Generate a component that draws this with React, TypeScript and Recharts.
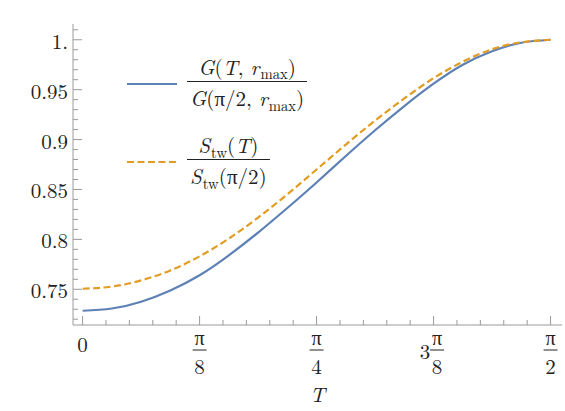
import React from 'react';
import { LineChart, Line, XAxis, YAxis, Legend } from 'recharts';

const PI = Math.PI;

// sample points, in units of π/32
const tSteps = [0, 1, 2, 3, 4, 5, 6, 7, 8, 9, 10, 11, 12, 13, 14, 15, 16];
// G(T, r_max) / G(π/2, r_max)
const gRatio = [0.7285, 0.7307, 0.7375, 0.7488, 0.764, 0.784, 0.8068, 0.8314, 0.857, 0.8835, 0.9093, 0.9336, 0.956, 0.975, 0.9885, 0.997, 1.0];
// S_tw(T) / S_tw(π/2)
const sRatio = [0.7505, 0.7527, 0.7589, 0.7689, 0.783, 0.8008, 0.8218, 0.8452, 0.87, 0.895, 0.919, 0.9412, 0.9615, 0.978, 0.9905, 0.9975, 1.0];

const xMajorTicks = [0, PI / 8, PI / 4, (3 * PI) / 8, PI / 2];
const xTickLabels = ['0', 'π/8', 'π/4', '3π/8', 'π/2'];
const yMajorTicks = [0.75, 0.8, 0.85, 0.9, 0.95, 1];
const yTickLabels = ['0.75', '0.8', '0.85', '0.9', '0.95', '1.'];

const xMinorTicks = Array.from({ length: 21 }, (_, i) => (i * PI) / 40);
const yMinorTicks = Array.from({ length: 30 }, (_, i) => +(0.72 + i * 0.01).toFixed(2));

const X_DOMAIN = [-0.0322, 1.6092];
const Y_DOMAIN = [0.7142, 1.0158];

const BLUE = '#5E81B5';
const ORANGE = '#E19C24';
const FRAME = '#9a9a9a';
const TEXT = '#222';
const FONT =
  "'Latin Modern Roman', 'CMU Serif', 'Liberation Serif', Tinos, 'Times New Roman', Times, 'DejaVu Serif', 'Noto Serif', FreeSerif, serif";

const data = tSteps.map((k, i) => ({ t: (k * PI) / 32, g: gRatio[i], s: sRatio[i] }));

const majorIndex = (ticks: number[], v: number) => ticks.findIndex(m => Math.abs(m - v) < 1e-6);

const XLabel = ({ x, y, label }: { x: number; y: number; label: string }) => {
  const m = label.match(/^(\d*)π\/(\d+)$/);
  if (!m) {
    return (
      <text x={x} y={y + 18} textAnchor="middle" dominantBaseline="central" fontSize={21} fill={TEXT} style={{ fontFamily: FONT }}>
        {label}
      </text>
    );
  }
  const coef = m[1];
  const cx = coef ? x + 3.5 : x;
  return (
    <g fill={TEXT} style={{ fontFamily: FONT }}>
      {coef && (
        <text x={cx - 12} y={y + 25} textAnchor="middle" dominantBaseline="central" fontSize={21}>
          {coef}
        </text>
      )}
      <text x={cx} y={y + 11} textAnchor="middle" dominantBaseline="central" fontSize={20}>
        π
      </text>
      <line x1={cx - 7} x2={cx + 7} y1={y + 25} y2={y + 25} stroke={TEXT} strokeWidth={1} />
      <text x={cx} y={y + 40} textAnchor="middle" dominantBaseline="central" fontSize={21}>
        {m[2]}
      </text>
    </g>
  );
};

const BottomTick = (props: any) => {
  const { x, y, payload } = props;
  const idx = majorIndex(xMajorTicks, payload.value);
  const len = idx >= 0 ? 9 : 5;
  return (
    <g>
      <line x1={x} x2={x} y1={y} y2={y - len} stroke={FRAME} />
      {idx >= 0 && <XLabel x={x} y={y} label={xTickLabels[idx]} />}
    </g>
  );
};

const TopTick = (props: any) => {
  const { x, y, payload } = props;
  const len = majorIndex(xMajorTicks, payload.value) >= 0 ? 9 : 5;
  return <line x1={x} x2={x} y1={y} y2={y + len} stroke={FRAME} />;
};

const LeftTick = (props: any) => {
  const { x, y, payload } = props;
  const idx = majorIndex(yMajorTicks, payload.value);
  const len = idx >= 0 ? 9 : 5;
  return (
    <g>
      <line x1={x} x2={x + len} y1={y} y2={y} stroke={FRAME} />
      {idx >= 0 && (
        <text x={x - 5} y={y} textAnchor="end" dominantBaseline="central" fontSize={21} fill={TEXT} style={{ fontFamily: FONT }}>
          {yTickLabels[idx]}
        </text>
      )}
    </g>
  );
};

const RightTick = (props: any) => {
  const { x, y, payload } = props;
  const len = majorIndex(yMajorTicks, payload.value) >= 0 ? 9 : 5;
  return <line x1={x} x2={x - len} y1={y} y2={y} stroke={FRAME} />;
};

const Sub = ({ children }: { children: React.ReactNode }) => (
  <span
    style={{
      display: 'inline-block',
      fontSize: '0.7em',
      fontStyle: 'normal',
      verticalAlign: '-0.3em',
      lineHeight: 1,
      marginLeft: 1,
    }}
  >
    {children}
  </span>
);

const I = ({ children }: { children: React.ReactNode }) => <i>{children}</i>;

const Frac = ({ num, den }: { num: React.ReactNode; den: React.ReactNode }) => (
  <div style={{ display: 'inline-flex', flexDirection: 'column', alignItems: 'center', fontFamily: FONT, fontSize: 21, color: TEXT }}>
    <div style={{ lineHeight: '22px', padding: '0 3px' }}>{num}</div>
    <div style={{ lineHeight: '22px', padding: '4px 3px 0', borderTop: `1px solid ${TEXT}`, alignSelf: 'stretch', textAlign: 'center' }}>
      {den}
    </div>
  </div>
);

const legendLabels: Record<string, React.ReactNode> = {
  g: (
    <Frac
      num={<>
        <I>G</I>(<I>T</I>, <I>r</I><Sub>max</Sub>)
      </>}
      den={<>
        <I>G</I>(π/2, <I>r</I><Sub>max</Sub>)
      </>}
    />
  ),
  s: (
    <Frac
      num={<>
        <I>S</I><Sub>tw</Sub>(<I>T</I>)
      </>}
      den={<>
        <I>S</I><Sub>tw</Sub>(π/2)
      </>}
    />
  ),
};

const dashes: Record<string, string | undefined> = { g: undefined, s: '7 3.5' };

const renderLegend = ({ payload }: any) => (
  <div style={{ display: 'flex', flexDirection: 'column', gap: 21 }}>
    {(payload || []).map((entry: any) => (
      <div key={entry.dataKey} style={{ display: 'flex', alignItems: 'center' }}>
        <svg width={50} height={4} style={{ display: 'block' }}>
          <line x1={0} x2={50} y1={2} y2={2} stroke={entry.color} strokeWidth={2} strokeDasharray={dashes[entry.dataKey]} />
        </svg>
        <div style={{ marginLeft: 10 }}>{legendLabels[entry.dataKey]}</div>
      </div>
    ))}
  </div>
);

const AxisTitle = (props: any) => {
  const { viewBox } = props;
  return (
    <text x={viewBox.x + viewBox.width / 2} y={viewBox.y + 68} textAnchor="middle" dominantBaseline="central" fontSize={21} fontStyle="italic" fill={TEXT} style={{ fontFamily: FONT }}>
      T
    </text>
  );
};

export default function App() {
  return (
    <div style={{ position: 'absolute', left: 0, top: 0, width: 565, height: 411, background: '#fff' }}>
      <LineChart width={565} height={411} data={data} margin={{ top: 24, right: 3, bottom: 0, left: 0 }}>
        <XAxis
          dataKey="t"
          type="number"
          domain={X_DOMAIN}
          allowDataOverflow
          ticks={xMinorTicks}
          interval={0}
          tickSize={0}
          tickMargin={0}
          tickLine={false}
          tick={<BottomTick />}
          axisLine={{ stroke: FRAME }}
          height={86}
          label={<AxisTitle />}
        />
        <XAxis
          xAxisId="top"
          orientation="top"
          type="number"
          domain={X_DOMAIN}
          allowDataOverflow
          ticks={xMinorTicks}
          interval={0}
          tickSize={0}
          tickMargin={0}
          tickLine={false}
          tick={<TopTick />}
          axisLine={{ stroke: FRAME }}
          height={0}
        />
        <YAxis
          type="number"
          domain={Y_DOMAIN}
          allowDataOverflow
          ticks={yMinorTicks}
          interval={0}
          tickSize={0}
          tickMargin={0}
          tickLine={false}
          tick={<LeftTick />}
          axisLine={{ stroke: FRAME }}
          width={73}
        />
        <YAxis
          yAxisId="right"
          orientation="right"
          type="number"
          domain={Y_DOMAIN}
          allowDataOverflow
          ticks={yMinorTicks}
          interval={0}
          tickSize={0}
          tickMargin={0}
          tickLine={false}
          tick={<RightTick />}
          axisLine={{ stroke: FRAME }}
          width={0}
        />
        <Legend
          layout="vertical"
          align="center"
          verticalAlign="middle"
          content={renderLegend}
          wrapperStyle={{ left: 127, top: 55, width: 'auto', height: 'auto' }}
        />
        <Line dataKey="g" name="G" type="natural" stroke={BLUE} strokeWidth={2.2} dot={false} isAnimationActive={false} />
        <Line dataKey="s" name="S" type="natural" stroke={ORANGE} strokeWidth={2.2} strokeDasharray="7 3.5" dot={false} isAnimationActive={false} />
      </LineChart>
    </div>
  );
}
